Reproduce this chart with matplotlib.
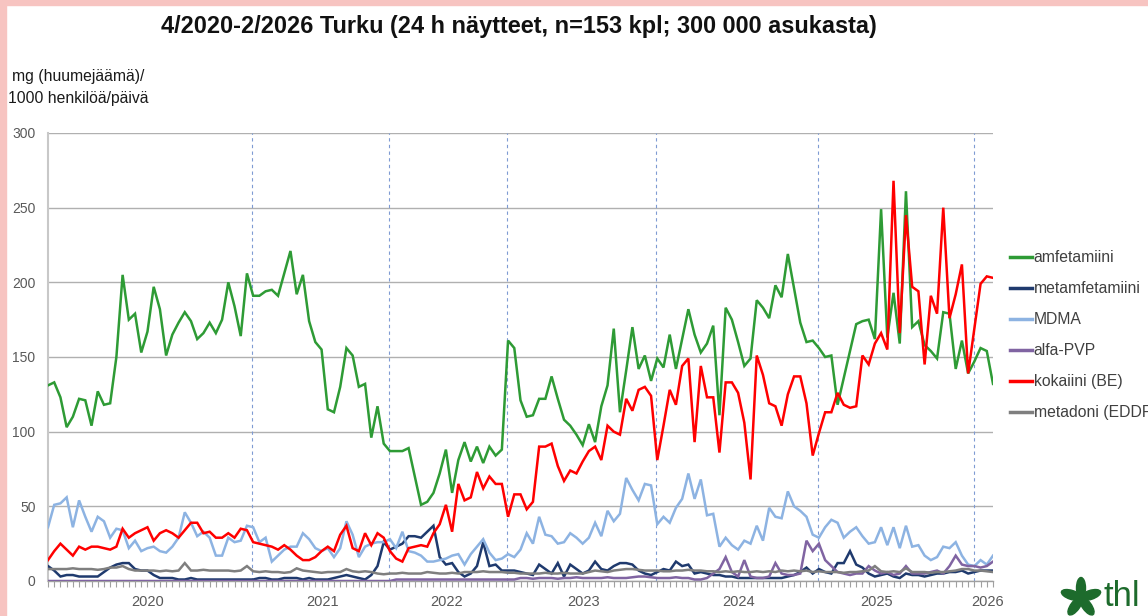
import numpy as np
import matplotlib
matplotlib.use("Agg")
import matplotlib.pyplot as plt
from matplotlib.patches import Rectangle, Ellipse

# values, one sample per point (n=153)
amfetamiini = [
    131, 133, 123, 103, 110, 122, 121, 104, 127, 118, 119, 150, 205, 175, 179, 153, 167, 197, 182, 151,
    165, 173, 180, 174, 162, 166, 173, 166, 175, 200, 184, 164, 206, 191, 191, 194, 195, 191, 206, 221,
    192, 205, 174, 160, 155, 115, 113, 130, 156, 151, 130, 132, 96, 117, 92, 87, 87, 87, 89, 70,
    51, 53, 59, 72, 88, 59, 81, 93, 80, 90, 79, 90, 84, 88, 161, 156, 121, 110, 111, 122,
    122, 137, 122, 108, 104, 98, 91, 105, 93, 117, 131, 169, 113, 141, 170, 142, 151, 134, 149, 143,
    165, 142, 162, 182, 165, 153, 159, 171, 111, 183, 175, 160, 144, 149, 188, 183, 176, 198, 190, 219,
    196, 173, 160, 161, 156, 150, 151, 118, 136, 154, 172, 174, 175, 162, 249, 163, 193, 159, 261, 170,
    174, 158, 154, 149, 180, 179, 142, 161, 139, 147, 156, 154, 132,
]
metamfetamiini = [
    10, 7, 3, 4, 4, 3, 3, 3, 3, 6, 9, 11, 12, 12, 8, 7, 7, 4, 2, 2,
    2, 1, 1, 2, 1, 1, 1, 1, 1, 1, 1, 1, 1, 1, 2, 2, 1, 1, 2, 2,
    2, 1, 2, 1, 1, 1, 2, 3, 4, 3, 2, 1, 4, 10, 26, 21, 23, 25, 30, 30,
    29, 33, 37, 16, 11, 12, 6, 3, 5, 10, 26, 10, 11, 7, 7, 7, 6, 5, 4, 11,
    8, 5, 12, 3, 11, 8, 5, 7, 13, 8, 7, 10, 12, 12, 11, 7, 5, 4, 6, 8,
    7, 13, 10, 11, 5, 6, 5, 4, 4, 3, 3, 2, 2, 2, 2, 2, 2, 2, 2, 3,
    4, 6, 9, 5, 8, 6, 5, 12, 12, 20, 11, 9, 5, 3, 4, 5, 3, 2, 5, 4,
    4, 3, 4, 5, 5, 6, 6, 7, 5, 6, 7, 7, 7,
]
mdma = [
    36, 51, 52, 56, 36, 54, 43, 33, 43, 40, 29, 35, 34, 22, 27, 20, 22, 23, 20, 19,
    23, 29, 46, 39, 30, 33, 29, 17, 17, 29, 26, 27, 37, 36, 26, 29, 13, 17, 21, 23,
    23, 32, 28, 22, 20, 22, 16, 22, 40, 31, 16, 23, 25, 26, 26, 28, 22, 33, 20, 19,
    17, 13, 13, 14, 15, 17, 18, 11, 18, 23, 28, 19, 14, 15, 18, 16, 21, 32, 25, 43,
    31, 30, 25, 26, 32, 29, 25, 29, 39, 30, 47, 40, 45, 69, 61, 54, 65, 64, 38, 43,
    39, 49, 55, 72, 55, 68, 44, 45, 23, 29, 24, 21, 27, 25, 37, 27, 49, 43, 42, 60,
    50, 47, 43, 31, 29, 36, 41, 39, 29, 33, 36, 30, 25, 26, 36, 24, 36, 22, 37, 23,
    24, 17, 14, 16, 23, 22, 26, 17, 11, 10, 14, 11, 17,
]
alfa_pvp = [
    0, 0, 0, 0, 0, 0, 0, 0, 0, 0, 0, 0, 0, 0, 0, 0, 0, 0, 0, 0,
    0, 0, 0, 0, 0, 0, 0, 0, 0, 0, 0, 0, 0, 0, 0, 0, 0, 0, 0, 0,
    0, 0, 0, 0, 0, 0, 0, 0, 0, 0, 0, 0, 0, 0, 0, 0, 1, 1, 1, 1,
    1, 1, 1, 1, 1, 1, 1, 1, 1, 1, 1, 1, 1, 1, 1, 1, 2, 2, 1.5, 2,
    2, 2, 1.5, 2, 2, 2.5, 2, 2, 2, 2, 2.5, 2, 2, 2, 2.5, 3, 3, 2.5, 2, 2,
    2, 2.5, 2, 2, 1, 1, 2, 5, 8, 16, 6, 3, 14, 3, 2, 2, 3, 12, 5, 4,
    4, 5, 27, 20, 25, 14, 10, 6, 5, 4, 5, 5, 10, 7, 5, 6, 4, 5, 10, 5,
    5, 5, 6, 7, 5, 10, 17, 11, 10, 10, 9, 10, 13,
]
kokaiini = [
    14, 20, 25, 21, 17, 23, 21, 23, 23, 22, 21, 23, 35, 29, 32, 34, 36, 27, 32, 34,
    32, 29, 34, 39, 39, 32, 33, 29, 29, 32, 29, 35, 34, 26, 25, 24, 23, 21, 24, 21,
    17, 14, 14, 16, 20, 23, 20, 31, 37, 22, 20, 32, 24, 32, 29, 20, 15, 13, 22, 23,
    24, 23, 32, 38, 51, 33, 65, 54, 56, 73, 62, 70, 65, 65, 43, 58, 58, 48, 53, 90,
    90, 92, 77, 67, 74, 72, 80, 87, 90, 81, 104, 100, 98, 122, 114, 128, 130, 124, 81, 104,
    128, 118, 144, 149, 93, 144, 123, 123, 86, 133, 133, 126, 106, 68, 151, 138, 119, 117, 104, 125,
    137, 137, 119, 84, 99, 113, 113, 126, 118, 116, 117, 151, 145, 159, 166, 155, 268, 166, 245, 197,
    194, 145, 191, 179, 250, 176, 192, 212, 139, 169, 199, 204, 203,
]
metadoni = [
    8, 8, 8, 8, 8.5, 8, 8, 8, 7.5, 8, 9, 9, 10, 8, 7, 7, 7, 7, 6.5, 7,
    6.5, 7, 12, 7, 7, 7.5, 7, 7, 7, 7, 6.5, 7, 10, 6.5, 6, 6.5, 6, 6, 5.5, 6,
    8.5, 7, 6.5, 6, 5.5, 6, 6, 6, 8, 6.5, 6, 6.5, 6, 5, 4.5, 5, 5, 5.5, 5, 5,
    5, 6, 5.5, 5, 5, 5.5, 5, 6, 6, 6, 6.5, 6, 6, 6, 5.5, 5.5, 5, 5, 5, 5,
    5.5, 5, 5, 5.5, 5, 5, 5, 6, 7, 6.5, 6, 7, 7.5, 8, 8, 7.5, 7, 7, 7, 6.5,
    6.5, 7, 7, 7.5, 7, 7, 6.5, 6.5, 6, 6.5, 6, 6.5, 6, 6, 6.5, 6, 6.5, 6, 7, 6.5,
    7, 6.5, 7, 6, 6.5, 6, 6, 6, 5.5, 6, 6, 6.5, 7, 10, 6.5, 6, 6.5, 6, 8.5, 6,
    6, 6, 5.5, 6, 6, 6.5, 7, 8, 8, 7, 7, 6.5, 6,
]

series_names = ['amfetamiini', 'metamfetamiini', 'MDMA', 'alfa-PVP', 'kokaiini (BE)', 'metadoni (EDDP)']
series_colors = ['#2e9b35', '#1f3a6e', '#8db3e2', '#8064a2', '#ff0000', '#7f7f7f']

# year boundaries (dashed) and year label positions, in sample index units
year_breaks = [32.8, 54.8, 73.9, 97.8, 123.8, 148.9]
year_pos = [16.1, 44.1, 64.1, 86.2, 111.1, 133.2, 151.2]
year_labels = ['2020', '2021', '2022', '2023', '2024', '2025', '2026']

W, H = 1148, 616
fig = plt.figure(figsize=(W / 100, H / 100), dpi=100)
fig.patch.set_facecolor('white')

# pink frame on left and top
fig.patches.append(Rectangle((0, 0), 6 / W, 1, transform=fig.transFigure, color='#f7c4c1', zorder=0))
fig.patches.append(Rectangle((0, 1 - 5 / H), 1, 5 / H, transform=fig.transFigure, color='#f7c4c1', zorder=0))

sans = ['Liberation Sans', 'DejaVu Sans']

ax = fig.add_axes([48 / W, 35 / H, 945 / W, 448 / H])
x = np.arange(len(amfetamiini))
data = [amfetamiini, metamfetamiini, mdma, alfa_pvp, kokaiini, metadoni]
for vals, name, col in zip(data, series_names, series_colors):
    ax.plot(x, vals, color=col, lw=1.8, label=name, solid_joinstyle='miter', zorder=3)

for b in year_breaks:
    ax.axvline(b, color='#7f9bd3', lw=0.8, ls=(0, (3, 3)), zorder=2)

ax.set_xlim(0, len(x) - 1)
ax.set_ylim(0, 300)
ax.set_yticks(np.arange(0, 301, 50))
ax.yaxis.grid(True, color='#b0b0b0', lw=1.0, zorder=1)
ax.set_axisbelow(True)
for s in ['top', 'right']:
    ax.spines[s].set_visible(False)
ax.spines['left'].set_color('#c8c8c8')
ax.spines['left'].set_linewidth(1.5)
ax.spines['bottom'].set_color('#a0a0a0')
ax.spines['bottom'].set_linewidth(1.0)

ax.tick_params(axis='y', length=0, pad=9, labelsize=10, labelcolor='#595959')
ax.set_xticks(year_pos)
ax.set_xticklabels(year_labels)
ax.set_xticks(x, minor=True)
ax.tick_params(axis='x', which='major', length=0, pad=10, labelsize=10.5, labelcolor='#595959')
ax.tick_params(axis='x', which='minor', length=4, width=0.8, color='#a0a0a0', direction='out')
for lab in ax.get_xticklabels() + ax.get_yticklabels():
    lab.set_family(sans)

leg = ax.legend(loc='upper left', bbox_to_anchor=(1010 / W, 1 - 250 / H), bbox_transform=fig.transFigure,
                frameon=False, handlelength=1.4, handletextpad=0.1, labelspacing=1.02,
                prop={'family': sans, 'size': 11.3}, borderaxespad=0, borderpad=0)
for t in leg.get_texts():
    t.set_color('#404040')
for h in leg.get_lines():
    h.set_linewidth(2.5)

fig.text(519 / W, 1 - 26 / H, '4/2020-2/2026 Turku (24 h näytteet, n=153 kpl; 300 000 asukasta)',
         ha='center', va='center', fontsize=16.9, fontweight='bold', family=sans, color='#111111')
fig.text(12 / W, 1 - 77 / H, 'mg (huumejäämä)/', ha='left', va='center', fontsize=11.3,
         family=sans, color='#1a1a1a')
fig.text(8 / W, 1 - 98 / H, '1000 henkilöä/päivä', ha='left', va='center', fontsize=11.3,
         family=sans, color='#1a1a1a')

# thl logo: leaf star + text
logo_green = '#1d6b2c'
cx, cy = 1081, H - 598
for ang in [90, 162, 234, 306, 18]:
    r = np.deg2rad(ang)
    fig.patches.append(Ellipse((cx + 10 * np.cos(r), cy + 10 * np.sin(r)), 21, 9, angle=ang,
                               transform=None, color=logo_green, zorder=5))
fig.text(1104 / W, 1 - 597 / H, 'thl', ha='left', va='center', fontsize=25,
         family=sans, color=logo_green)

fig.savefig('out.png', dpi=100)
